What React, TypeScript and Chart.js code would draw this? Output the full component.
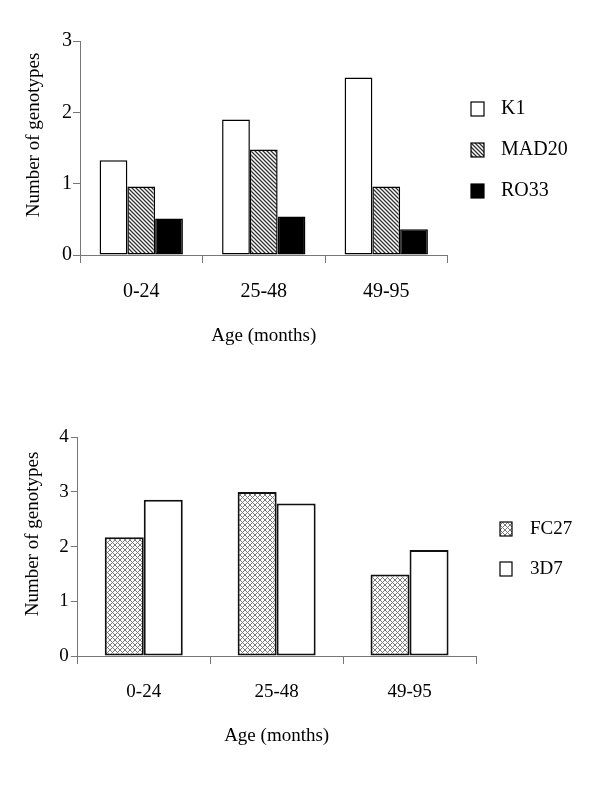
import React, { useEffect, useRef } from "react";
import { Chart, registerables } from "chart.js";
Chart.register(...registerables);

const ageGroups = ["0-24", "25-48", "49-95"];
const k1Values = [1.33, 1.9, 2.49];
const mad20Values = [0.96, 1.48, 0.96];
const ro33Values = [0.51, 0.54, 0.36];
const fc27Values = [2.17, 3.0, 1.49];
const d37Values = [2.86, 2.79, 1.94];
const topTicks = [0, 1, 2, 3];
const bottomTicks = [0, 1, 2, 3, 4];
const xTitle = "Age (months)";
const yTitle = "Number of genotypes";

const FAMILY = '"Liberation Serif", "Times New Roman", serif';
const AXIS = "#777";

function stripePattern(): CanvasPattern {
  const c = document.createElement("canvas");
  c.width = 4;
  c.height = 4;
  const g = c.getContext("2d")!;
  g.fillStyle = "#fff";
  g.fillRect(0, 0, 4, 4);
  g.strokeStyle = "#333";
  g.lineWidth = 1.3;
  g.beginPath();
  g.moveTo(-1, -1);
  g.lineTo(5, 5);
  g.moveTo(-1, 3);
  g.lineTo(1, 5);
  g.moveTo(3, -1);
  g.lineTo(5, 1);
  g.stroke();
  return g.createPattern(c, "repeat")!;
}

function crossPattern(): CanvasPattern {
  const c = document.createElement("canvas");
  c.width = 5;
  c.height = 5;
  const g = c.getContext("2d")!;
  g.fillStyle = "#fff";
  g.fillRect(0, 0, 5, 5);
  g.strokeStyle = "#7a7a7a";
  g.lineWidth = 1;
  g.beginPath();
  g.moveTo(0, 0);
  g.lineTo(5, 5);
  g.moveTo(0, 5);
  g.lineTo(5, 0);
  g.stroke();
  return g.createPattern(c, "repeat")!;
}

type LegendCfg = {
  boxX: number;
  boxW: number;
  boxH: number;
  firstY: number;
  gap: number;
  textX: number;
  fontSize: number;
  titleX: number;
  titleY: number;
  titleSize: number;
};

function overlayPlugin(cfg: LegendCfg) {
  return {
    id: "overlay",
    afterDraw(chart: any) {
      const ctx = chart.ctx as CanvasRenderingContext2D;
      ctx.save();
      chart.data.datasets.forEach((ds: any, i: number) => {
        const cy = cfg.firstY + i * cfg.gap;
        ctx.fillStyle = ds.backgroundColor;
        ctx.fillRect(cfg.boxX, cy - cfg.boxH / 2, cfg.boxW, cfg.boxH);
        ctx.strokeStyle = "#000";
        ctx.lineWidth = 1.2;
        ctx.strokeRect(cfg.boxX, cy - cfg.boxH / 2, cfg.boxW, cfg.boxH);
        ctx.fillStyle = "#000";
        ctx.font = `${cfg.fontSize}px ${FAMILY}`;
        ctx.textBaseline = "middle";
        ctx.textAlign = "left";
        ctx.fillText(ds.label, cfg.textX, cy);
      });
      ctx.translate(cfg.titleX, cfg.titleY);
      ctx.rotate(-Math.PI / 2);
      ctx.font = `${cfg.titleSize}px ${FAMILY}`;
      ctx.textAlign = "center";
      ctx.textBaseline = "middle";
      ctx.fillStyle = "#000";
      ctx.fillText(yTitle, 0, 0);
      ctx.restore();
    },
  };
}

function makeOptions(p: {
  top: number;
  right: number;
  xHeight: number;
  yWidth: number;
  max: number;
  ticks: number[];
  fontSize: number;
  catPct: number;
  xPad: number;
  titlePadBottom: number;
  yTickLen: number;
  yPad: number;
}): any {
  const font = { family: FAMILY, size: p.fontSize };
  return {
    animation: false,
    responsive: false,
    maintainAspectRatio: false,
    layout: { padding: { left: 0, top: p.top, right: p.right, bottom: 0 } },
    plugins: { legend: { display: false }, tooltip: { enabled: false } },
    datasets: { bar: { categoryPercentage: p.catPct, barPercentage: 1 } },
    scales: {
      x: {
        grid: {
          offset: true,
          drawOnChartArea: false,
          drawTicks: true,
          tickLength: 8,
          color: AXIS,
          lineWidth: 1,
        },
        border: { color: AXIS, width: 1 },
        ticks: { font, color: "#000", padding: p.xPad, maxRotation: 0 },
        title: {
          display: true,
          text: xTitle,
          font: { family: FAMILY, size: 19 },
          color: "#000",
          padding: { top: 0, bottom: p.titlePadBottom },
        },
        afterFit: (s: any) => {
          s.height = p.xHeight;
        },
      },
      y: {
        min: 0,
        max: p.max,
        afterBuildTicks: (s: any) => {
          s.ticks = p.ticks.map((v) => ({ value: v }));
        },
        ticks: { font, color: "#000", padding: p.yPad },
        grid: {
          drawOnChartArea: false,
          drawTicks: true,
          tickLength: p.yTickLen,
          color: AXIS,
          lineWidth: 1,
        },
        border: { color: AXIS, width: 1 },
        afterFit: (s: any) => {
          s.width = p.yWidth;
        },
      },
    },
  };
}

export default function App() {
  const topRef = useRef<HTMLCanvasElement>(null);
  const botRef = useRef<HTMLCanvasElement>(null);

  useEffect(() => {
    const stripes = stripePattern();
    const cross = crossPattern();
    const topBar = { borderColor: "#000", borderWidth: 1.5, borderSkipped: false };
    const botBar = { borderColor: "#111", borderWidth: 2, borderSkipped: false };

    const top = new Chart(topRef.current!, {
      type: "bar",
      data: {
        labels: ageGroups,
        datasets: [
          { label: "K1", data: k1Values, backgroundColor: "#fff", ...topBar },
          { label: "MAD20", data: mad20Values, backgroundColor: stripes as any, ...topBar },
          { label: "RO33", data: ro33Values, backgroundColor: "#000", ...topBar },
        ],
      } as any,
      options: makeOptions({
        top: 41,
        right: 152.5,
        xHeight: 135,
        yWidth: 80,
        max: 3,
        ticks: topTicks,
        fontSize: 20,
        catPct: 0.68,
        xPad: 17,
        titlePadBottom: 42.6,
        yTickLen: 7,
        yPad: 1,
      }),
      plugins: [
        overlayPlugin({
          boxX: 471,
          boxW: 13,
          boxH: 14,
          firstY: 109,
          gap: 41,
          textX: 501,
          fontSize: 20,
          titleX: 34,
          titleY: 135,
          titleSize: 19,
        }),
      ],
    });

    const bot = new Chart(botRef.current!, {
      type: "bar",
      data: {
        labels: ageGroups,
        datasets: [
          { label: "FC27", data: fc27Values, backgroundColor: cross as any, ...botBar },
          { label: "3D7", data: d37Values, backgroundColor: "#fff", ...botBar },
        ],
      } as any,
      options: makeOptions({
        top: 47.3,
        right: 124,
        xHeight: 129,
        yWidth: 77.3,
        max: 4,
        ticks: bottomTicks,
        fontSize: 19,
        catPct: 0.587,
        xPad: 16.3,
        titlePadBottom: 37.6,
        yTickLen: 6.5,
        yPad: 2,
      }),
      plugins: [
        overlayPlugin({
          boxX: 500,
          boxW: 12,
          boxH: 14,
          firstY: 139,
          gap: 40,
          textX: 530,
          fontSize: 19,
          titleX: 33,
          titleY: 144,
          titleSize: 19,
        }),
      ],
    });

    return () => {
      top.destroy();
      bot.destroy();
    };
  }, []);

  return (
    <div style={{ position: "absolute", left: 0, top: 0, width: 600, height: 785, background: "#fff" }}>
      <canvas
        ref={topRef}
        width={600}
        height={390}
        style={{ position: "absolute", left: 0, top: 0, width: 600, height: 390, display: "block" }}
      />
      <canvas
        ref={botRef}
        width={600}
        height={395}
        style={{ position: "absolute", left: 0, top: 390, width: 600, height: 395, display: "block" }}
      />
    </div>
  );
}
